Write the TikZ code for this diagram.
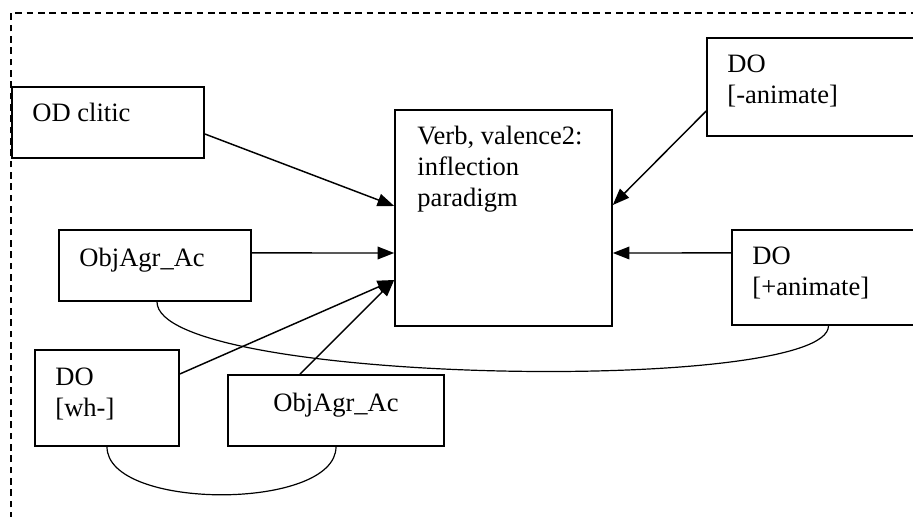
\documentclass[tikz,border=0pt]{standalone}
\usepackage{fontspec}
\setmainfont{Liberation Serif}
\usepackage{tikz}
\usetikzlibrary{arrows.meta, positioning}
\tikzstyle{box} = [rectangle, draw=black, line width=1.2pt, inner sep=0pt]
\tikzstyle{txt} = [anchor=base west, inner sep=0pt, align=left, xshift=15.75pt, yshift=-26.25pt]
\tikzstyle{arrow} = [line width=1.1pt, -{Triangle[length=12.5pt,width=9.5pt]}]
\tikzstyle{link} = [line width=0.9pt]
\tikzstyle{frame} = [line width=0.9pt, dash pattern=on 5pt off 3.5pt]

\begin{document}
\begin{tikzpicture}[x=0.75pt, y=-0.75pt, font=\fontsize{19.9pt}{23.25pt}\selectfont]
            \clip (0,0) rectangle (913,517);
            \draw[frame] (11,530) -- (11,13) -- (930,13);

            \node[box, minimum width=144pt, minimum height=53.25pt, label={[txt]north west:OD clitic}] (odclitic) at (108,122.5) {};
            \node[box, minimum width=162.75pt, minimum height=162pt, label={[txt, xshift=1.5pt, yshift=-46.5pt]north west:Verb, valence2:\\inflection\\paradigm}] (verb) at (503.5,218) {};
            \node[box, minimum width=163.5pt, minimum height=73.5pt, label={[txt, yshift=-23.25pt]north west:DO\\{[-animate]}}] (doanim) at (816,87) {};
            \node[box, minimum width=144.75pt, minimum height=71.25pt, label={[txt, yshift=-23.25pt]north west:DO\\{[+animate]}}] (doplus) at (828.5,277.5) {};
            \node[box, minimum width=144pt, minimum height=53.25pt, label={[txt, yshift=-1.5pt]north west:ObjAgr\_Ac}] (objagra) at (155,265.5) {};
            \node[box, minimum width=108pt, minimum height=72pt, label={[txt, yshift=-24pt]north west:DO\\{[wh-]}}] (dowh) at (107,398) {};
            \node[box, minimum width=162pt, minimum height=53.25pt, label={[anchor=base, inner sep=0pt, yshift=-27.75pt]north:ObjAgr\_Ac}] (objagrb) at (336,410.5) {};

            \draw[arrow] ([yshift=-8.6pt]odclitic.east) -- ([yshift=9pt]verb.west);
            \draw[arrow] ([yshift=9.4pt]objagra.east) -- ([yshift=-26.25pt]verb.west);
            \draw[arrow] ([yshift=18pt]dowh.east) -- ([yshift=-46.5pt]verb.west);
            \draw[arrow] ([xshift=-27pt]objagrb.north) -- ([yshift=-46.5pt]verb.west);
            \draw[arrow] ([yshift=-18pt]doanim.west) -- ([yshift=9.75pt]verb.east);
            \draw[arrow] ([yshift=18.4pt]doplus.west) -- ([yshift=-26.25pt]verb.east);

            \draw[link] ([xshift=1.5pt]objagra.south) .. controls +(0,83) and +(0,69) .. (doplus.south);
            \draw[link] (dowh.south) .. controls +(0,64) and +(0,64) .. (objagrb.south);
        \end{tikzpicture}
\end{document}
